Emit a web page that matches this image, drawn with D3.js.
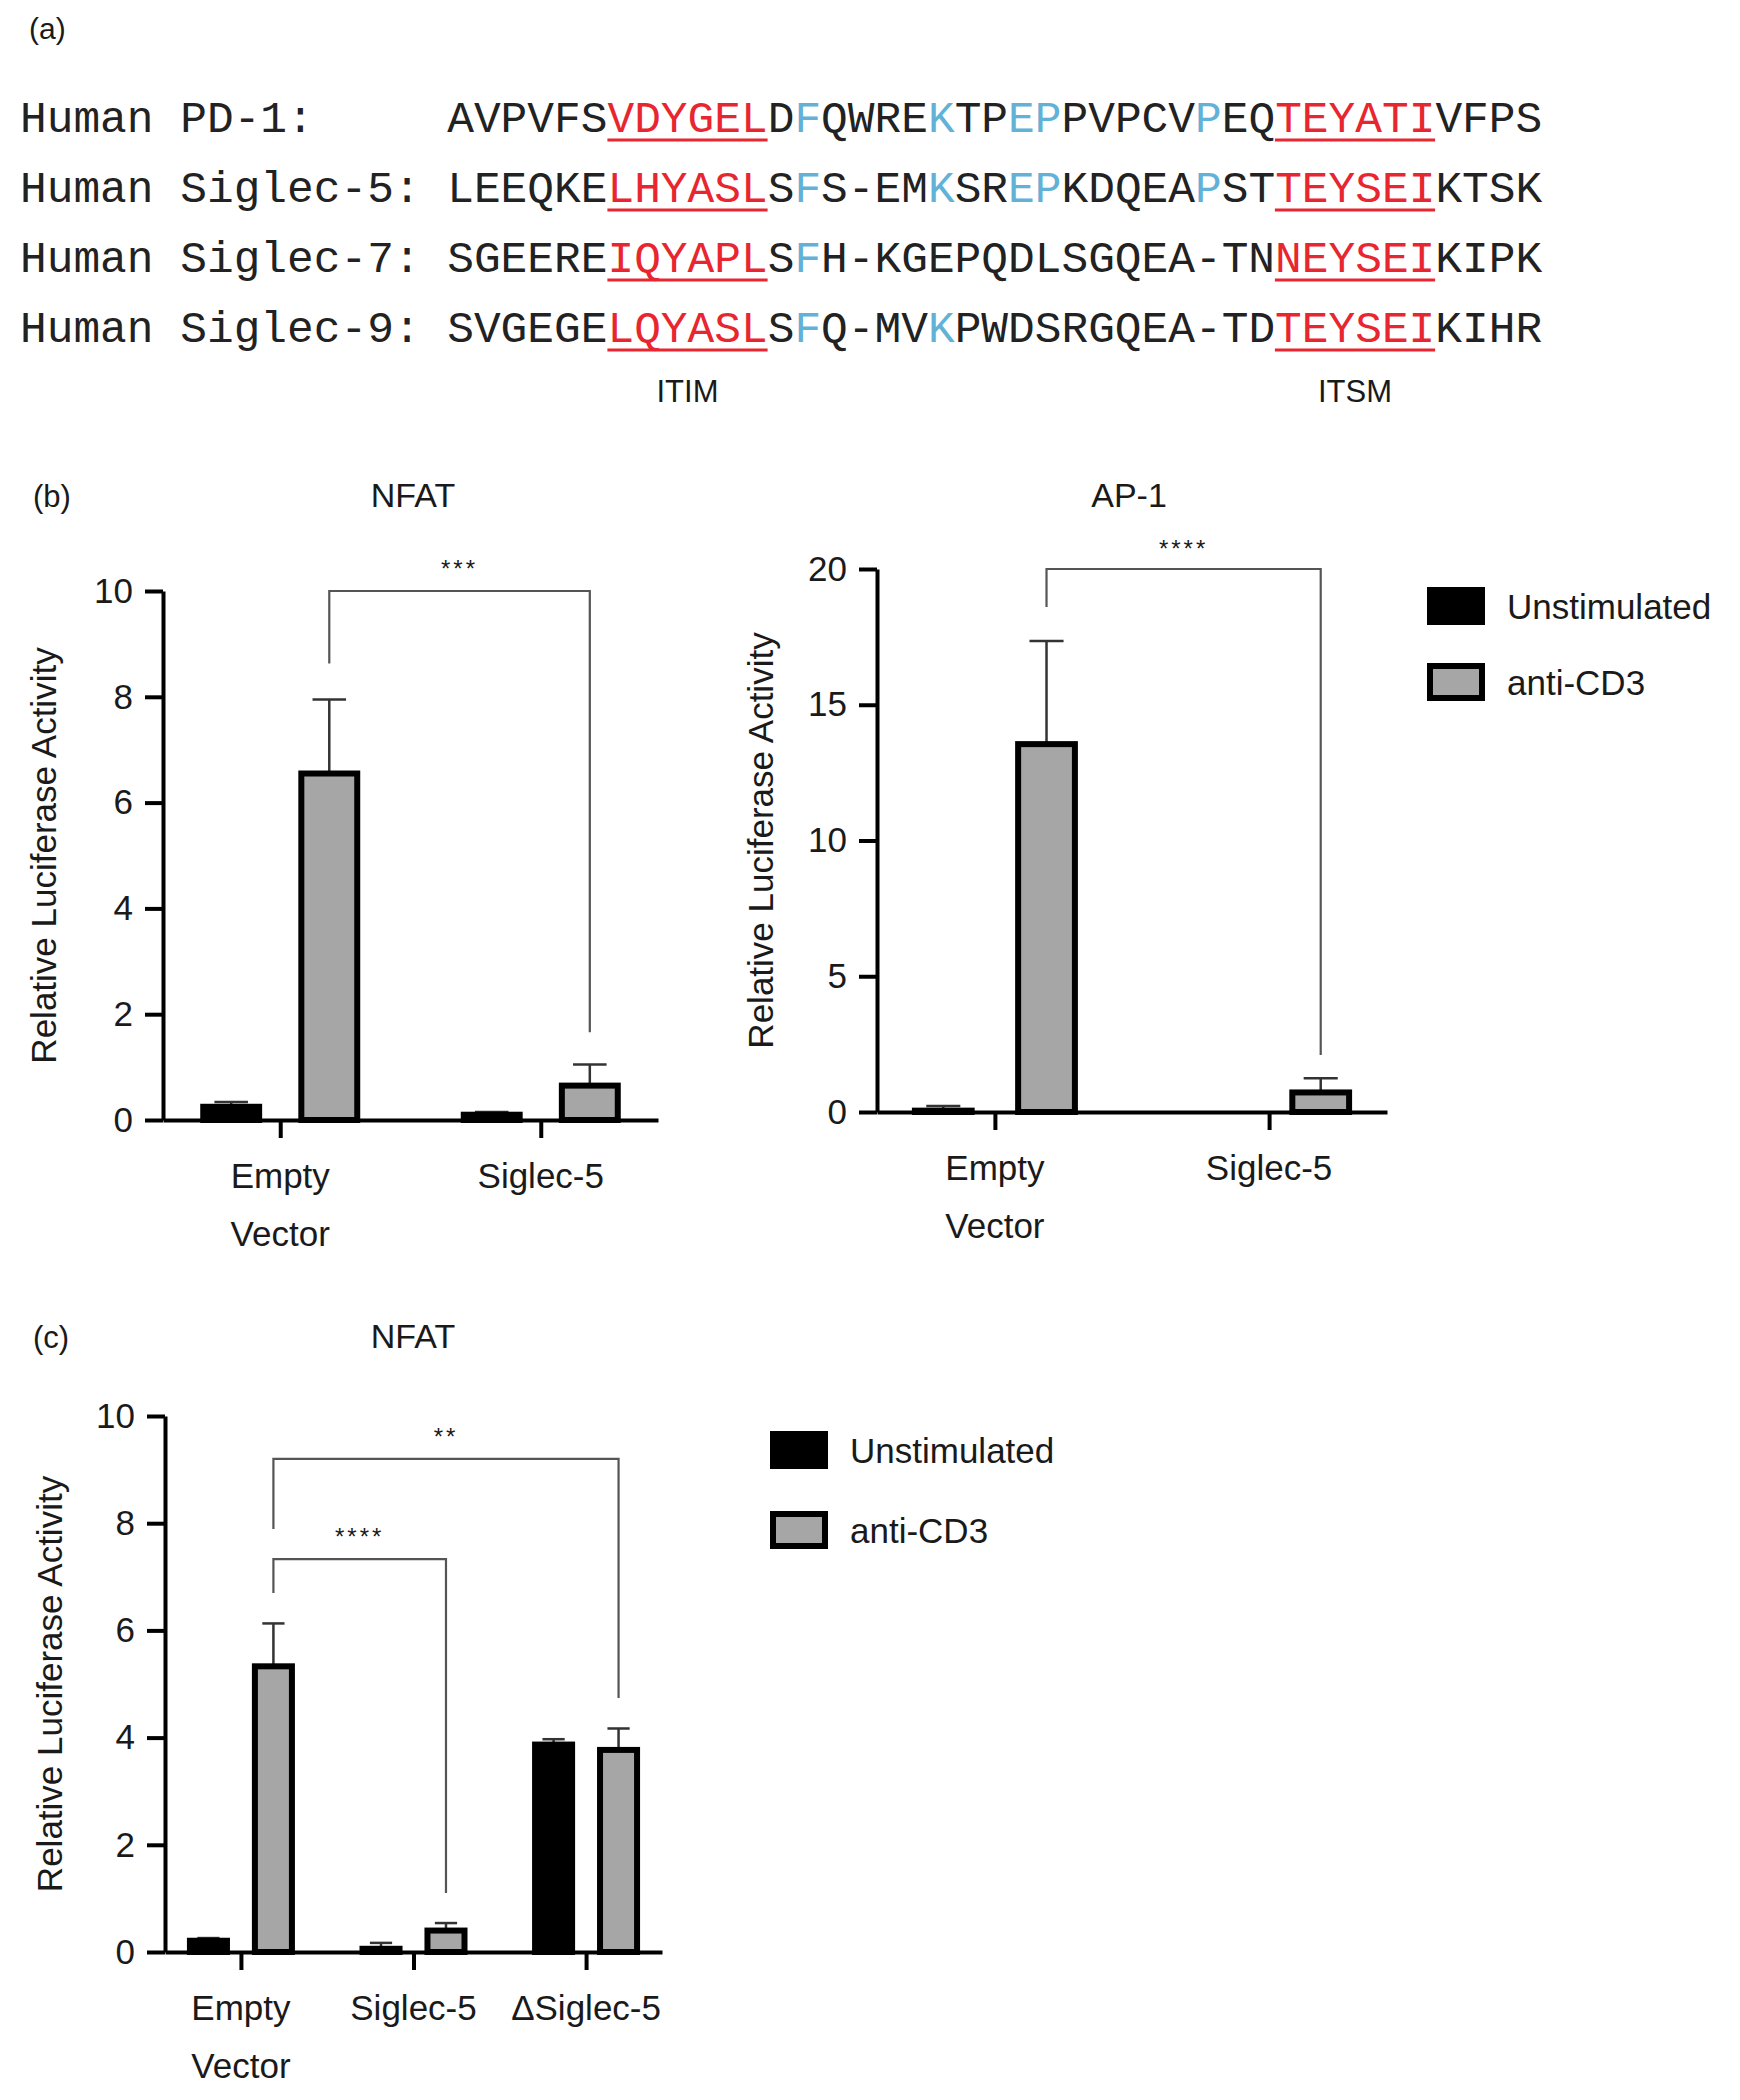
<!DOCTYPE html>
<html><head><meta charset="utf-8">
<script src="https://cdn.jsdelivr.net/npm/d3@7"></script>
<style>
body{margin:0;background:#fff}
svg{display:block}
text{font-family:"Liberation Sans",Arial,Helvetica,sans-serif;fill:#1a1a1a}
</style>
</head><body>
<svg id="fig" width="1740" height="2100"></svg>
<script>
// ---------------- DATA ----------------
// (a) sequence alignment: segments [text, kind] k=black, r=red motif (underlined), b=blue
const seqNames = ["Human PD-1:", "Human Siglec-5:", "Human Siglec-7:", "Human Siglec-9:"];
const seqPD1 = [["AVPVFS","k"],["VDYGEL","r"],["D","k"],["F","b"],["QWRE","k"],["K","b"],["TP","k"],["EP","b"],["PVPCV","k"],["P","b"],["EQ","k"],["TEYATI","r"],["VFPS","k"]];
const seqSiglec5 = [["LEEQKE","k"],["LHYASL","r"],["S","k"],["F","b"],["S-EM","k"],["K","b"],["SR","k"],["EP","b"],["KDQEA","k"],["P","b"],["ST","k"],["TEYSEI","r"],["KTSK","k"]];
const seqSiglec7 = [["SGEERE","k"],["IQYAPL","r"],["S","k"],["F","b"],["H-KGEPQDLSGQEA-TN","k"],["NEYSEI","r"],["KIPK","k"]];
const seqSiglec9 = [["SVGEGE","k"],["LQYASL","r"],["S","k"],["F","b"],["Q-MV","k"],["K","b"],["PWDSRGQEA-TD","k"],["TEYSEI","r"],["KIHR","k"]];
const motifLabels = ["ITIM", "ITSM"];

// shared series
const seriesNames = ["Unstimulated", "anti-CD3"];

// (b) NFAT
const bNfatCategories = [["Empty","Vector"], ["Siglec-5"]];
const bNfatUnstim   = [0.25, 0.10];
const bNfatUnstimSD = [0.09, 0.05];
const bNfatAnti     = [6.55, 0.65];
const bNfatAntiSD   = [1.40, 0.40];
const bNfatTicks    = [0, 2, 4, 6, 8, 10];
const bNfatSig      = [{label:"***", from:0, to:1, top:10, fromEnd:8.63, toEnd:1.66}];

// (b) AP-1
const bAp1Categories = [["Empty","Vector"], ["Siglec-5"]];
const bAp1Unstim   = [0.05, 0];
const bAp1UnstimSD = [0.17, 0];
const bAp1Anti     = [13.55, 0.72];
const bAp1AntiSD   = [3.80, 0.52];
const bAp1Ticks    = [0, 5, 10, 15, 20];
const bAp1Sig      = [{label:"****", from:0, to:1, top:20, fromEnd:18.6, toEnd:2.1}];

// (c) NFAT
const cNfatCategories = [["Empty","Vector"], ["Siglec-5"], ["ΔSiglec-5"]];
const cNfatUnstim   = [0.21, 0.06, 3.87];
const cNfatUnstimSD = [0.05, 0.11, 0.10];
const cNfatAnti     = [5.33, 0.40, 3.77];
const cNfatAntiSD   = [0.80, 0.14, 0.40];
const cNfatTicks    = [0, 2, 4, 6, 8, 10];
const cNfatSig      = [
  {label:"**",   from:0, to:2, top:9.2,  fromEnd:7.89, toEnd:4.74},
  {label:"****", from:0, to:1, top:7.33, fromEnd:6.7,  toEnd:1.1}
];

// ---------------- DRAW ----------------
const svg = d3.select("#fig");
const color = d3.scaleOrdinal().domain(seriesNames).range(["#000000", "#a6a6a6"]);

// ---- panel (a)
svg.append("text").attr("x", 29).attr("y", 39).attr("font-size", 30).text("(a)");
const mono = "'Liberation Mono','Courier New',monospace";
const fs = 44.5, charW = fs * 0.6;
const labelX = 20, seqX = labelX + 16 * charW;
const rowY = [132, 202, 272, 342];
const seqColors = {k:"#222222", r:"#e8262f", b:"#62b2d8"};
const allSeqs = [seqPD1, seqSiglec5, seqSiglec7, seqSiglec9];
allSeqs.forEach((segs, r) => {
  svg.append("text").attr("x", labelX).attr("y", rowY[r])
    .style("font-family", mono).attr("font-size", fs).style("fill", "#222")
    .attr("xml:space","preserve").text(seqNames[r]);
  const t = svg.append("text").attr("x", seqX).attr("y", rowY[r])
    .style("font-family", mono).attr("font-size", fs);
  let off = 0;
  segs.forEach(([s, k]) => {
    t.append("tspan").style("fill", seqColors[k]).text(s);
    if (k === "r") {
      svg.append("line")
        .attr("x1", seqX + off * charW).attr("x2", seqX + (off + s.length) * charW)
        .attr("y1", rowY[r] + 8).attr("y2", rowY[r] + 8)
        .attr("stroke", "#e8262f").attr("stroke-width", 3);
    }
    off += s.length;
  });
});
// motif labels centered under the red motifs of first row
{
  let off = 0, mi = 0;
  seqPD1.forEach(([s, k]) => {
    if (k === "r") {
      svg.append("text").attr("x", seqX + (off + s.length / 2) * charW).attr("y", 402)
        .attr("text-anchor", "middle").attr("font-size", 31).text(motifLabels[mi++]);
    }
    off += s.length;
  });
}

// ---- bar chart helper
function drawChart(c) {
  const g = svg.append("g");
  const x = d3.scalePoint().domain(d3.range(c.cats.length)).range([c.left, c.right]).padding(c.pad);
  const x1 = d3.scaleBand().domain(seriesNames).range([-c.inner, c.inner]).paddingInner(c.innerPad);
  const y = d3.scaleLinear().domain([0, c.max]).range([c.bottom, c.top]);
  const rows = [];
  c.cats.forEach((cat, i) => seriesNames.forEach((s, j) =>
    rows.push({i, s, v: c.vals[j][i], e: c.sds[j][i]})));
  const bw = x1.bandwidth();
  const cx = d => x(d.i) + x1(d.s) + bw / 2;

  // error bars (upper only)
  const eg = g.append("g").attr("stroke", "#333").attr("stroke-width", 2.5);
  rows.filter(d => d.e > 0).forEach(d => {
    eg.append("line").attr("x1", cx(d)).attr("x2", cx(d)).attr("y1", y(d.v)).attr("y2", y(d.v + d.e));
    eg.append("line").attr("x1", cx(d) - bw * 0.3).attr("x2", cx(d) + bw * 0.3)
      .attr("y1", y(d.v + d.e)).attr("y2", y(d.v + d.e));
  });

  // bars
  g.selectAll("rect.bar").data(rows.filter(d => d.v > 0)).join("rect")
    .attr("class", "bar")
    .attr("x", d => x(d.i) + x1(d.s)).attr("width", bw)
    .attr("y", d => y(d.v)).attr("height", d => y(0) - y(d.v))
    .attr("fill", d => color(d.s)).attr("stroke", "#000").attr("stroke-width", c.sw);

  // y axis
  const ya = g.append("g").attr("transform", `translate(${c.left},0)`)
    .call(d3.axisLeft(y).tickValues(c.ticks).tickSize(18).tickSizeOuter(0).tickPadding(12));
  ya.select(".domain").attr("stroke", "#000").attr("stroke-width", 4);
  ya.selectAll(".tick line").attr("stroke", "#000").attr("stroke-width", 4);
  ya.selectAll(".tick text").attr("font-size", 35).style("font-family", "'Liberation Sans',Arial,sans-serif").attr("fill", "#1a1a1a");

  // x axis
  const xa = g.append("g").attr("transform", `translate(0,${c.bottom})`)
    .call(d3.axisBottom(x).tickSize(18).tickSizeOuter(0).tickFormat(""));
  xa.select(".domain").attr("stroke", "#000").attr("stroke-width", 4);
  xa.selectAll(".tick line").attr("stroke", "#000").attr("stroke-width", 4);
  c.cats.forEach((lines, i) => {
    lines.forEach((ln, k) => {
      g.append("text").attr("x", x(i)).attr("y", c.bottom + 68 + k * 58)
        .attr("text-anchor", "middle").attr("font-size", 35).text(ln);
    });
  });

  // y label
  g.append("text")
    .attr("transform", `translate(${c.ylabX},${(c.top + c.bottom) / 2}) rotate(-90)`)
    .attr("text-anchor", "middle").attr("dominant-baseline", "central")
    .attr("font-size", 35).text("Relative Luciferase Activity");

  // title
  g.append("text").attr("x", c.titleX).attr("y", c.titleY).attr("text-anchor", "middle")
    .attr("font-size", 34).text(c.title);

  // significance brackets
  c.sig.forEach(s => {
    const xa0 = x(s.from) + x1("anti-CD3") + bw / 2;
    const xb0 = x(s.to) + x1("anti-CD3") + bw / 2;
    g.append("path")
      .attr("d", `M${xa0},${y(s.fromEnd)}V${y(s.top)}H${xb0}V${y(s.toEnd)}`)
      .attr("fill", "none").attr("stroke", "#555").attr("stroke-width", 2.2);
    g.append("text").attr("x", (xa0 + xb0) / 2).attr("y", y(s.top) + c.starDy)
      .attr("text-anchor", "middle").attr("font-size", 24).attr("letter-spacing", 3)
      .text(s.label);
  });
}

function drawLegend(x0, y0, gap) {
  seriesNames.forEach((s, i) => {
    svg.append("rect").attr("x", x0 + 3).attr("y", y0 + i * gap + 3).attr("width", 52).attr("height", 32)
      .attr("fill", color(s)).attr("stroke", "#000").attr("stroke-width", 6);
    svg.append("text").attr("x", x0 + 80).attr("y", y0 + i * gap + 19)
      .attr("dominant-baseline", "central").attr("font-size", 35).text(s);
  });
}

// panel (b)
svg.append("text").attr("x", 33).attr("y", 507).attr("font-size", 31).text("(b)");
drawChart({cats: bNfatCategories, vals: [bNfatUnstim, bNfatAnti], sds: [bNfatUnstimSD, bNfatAntiSD],
  ticks: bNfatTicks, max: 10, sig: bNfatSig,
  left: 163, right: 658, pad: 0.45, inner: 77, innerPad: 0.43, top: 591, bottom: 1120, sw: 6,
  ylabX: 43, title: "NFAT", titleX: 413, titleY: 507, starDy: -14});
drawChart({cats: bAp1Categories, vals: [bAp1Unstim, bAp1Anti], sds: [bAp1UnstimSD, bAp1AntiSD],
  ticks: bAp1Ticks, max: 20, sig: bAp1Sig,
  left: 877, right: 1387, pad: 0.43, inner: 80, innerPad: 0.45, top: 569, bottom: 1112, sw: 6,
  ylabX: 760, title: "AP-1", titleX: 1129, titleY: 507, starDy: -12});
drawLegend(1427, 587, 76);

// panel (c)
svg.append("text").attr("x", 33).attr("y", 1348).attr("font-size", 31).text("(c)");
drawChart({cats: cNfatCategories, vals: [cNfatUnstim, cNfatAnti], sds: [cNfatUnstimSD, cNfatAntiSD],
  ticks: cNfatTicks, max: 10, sig: cNfatSig,
  left: 165, right: 662, pad: 0.44, inner: 51, innerPad: 0.43, top: 1416, bottom: 1952, sw: 6,
  ylabX: 49, title: "NFAT", titleX: 413, titleY: 1348, starDy: -14});
drawLegend(770, 1431, 80);
</script>
</body></html>
